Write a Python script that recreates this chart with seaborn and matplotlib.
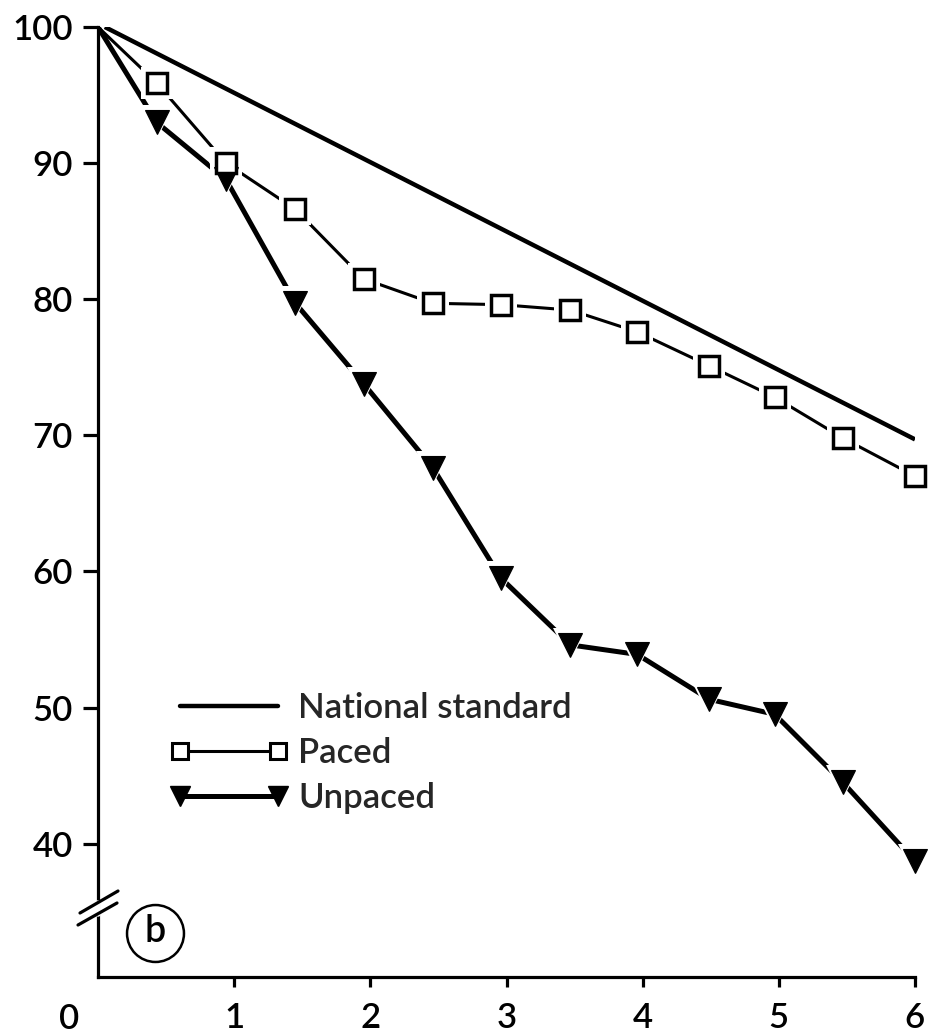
import matplotlib
matplotlib.use("Agg")
import matplotlib.pyplot as plt
from matplotlib.lines import Line2D
import seaborn as sns

# Months since start and percentage retained
months = [0.0, 0.43, 0.94, 1.45, 1.95, 2.46, 2.96, 3.47, 3.96, 4.49, 4.97, 5.47, 6.0]
paced = [100.0, 95.9, 90.0, 86.6, 81.5, 79.7, 79.6, 79.2, 77.6, 75.1, 72.8, 69.8, 67.0]
unpaced = [100.0, 93.0, 88.8, 79.7, 73.8, 67.6, 59.5, 54.6, 53.9, 50.6, 49.5, 44.5, 38.7]
standard_months = [0.05, 6.0]
standard = [100.0, 69.7]

y_ticks = [40, 50, 60, 70, 80, 90, 100]
x_ticks = [1, 2, 3, 4, 5, 6]
labels = ["National standard", "Paced", "Unpaced"]
panel = "b"

sns.set_theme(style="ticks")
plt.rcParams["font.family"] = ["Lato", "DejaVu Sans"]
plt.rcParams["font.weight"] = "semibold"

W, H = 941, 1036
fig = plt.figure(figsize=(W / 100, H / 100), dpi=100)
ax = fig.add_axes([98 / W, 1 - 977 / H, (915 - 98) / W, (977 - 27) / H])

ink = "black"

# National standard line
sns.lineplot(x=standard_months, y=standard, ax=ax, color=ink, lw=3.2,
             solid_capstyle="butt", zorder=3)

# Series lines
sns.lineplot(x=months, y=paced, ax=ax, color=ink, lw=2.2, zorder=3)
sns.lineplot(x=months, y=unpaced, ax=ax, color=ink, lw=3.6, zorder=3)

# White halos open a small gap between each line and its markers
ax.plot(months[1:], paced[1:], linestyle="none", marker="s", ms=23,
        mfc="white", mec="white", mew=0, zorder=4, clip_on=False)
ax.plot(months[1:], unpaced[1:], linestyle="none", marker="v", ms=25,
        mfc="white", mec="white", mew=0, zorder=4, clip_on=False)

# Markers
sns.lineplot(x=months[1:], y=unpaced[1:], ax=ax, color=ink, linestyle="none",
             marker="v", ms=17, markeredgecolor=ink, markerfacecolor=ink,
             markeredgewidth=0.8, zorder=6, clip_on=False)
sns.lineplot(x=months[1:], y=paced[1:], ax=ax, color=ink, linestyle="none",
             marker="s", ms=14, markeredgecolor=ink, markerfacecolor="white",
             markeredgewidth=2.5, zorder=7, clip_on=False)

ax.set_xlim(0, 6)
ax.set_ylim(30.2, 100)
ax.set_xticks(x_ticks)
ax.set_yticks(y_ticks)
ax.set_xticklabels([str(t) for t in x_ticks])
ax.set_yticklabels([str(t) for t in y_ticks])
ax.set_xlabel("")
ax.set_ylabel("")

for side in ("top", "right"):
    ax.spines[side].set_visible(False)
for side in ("left", "bottom"):
    ax.spines[side].set_linewidth(2.3)
    ax.spines[side].set_color(ink)

ax.tick_params(axis="y", direction="out", length=11, width=2.3,
               pad=7, labelsize=25, colors=ink)
ax.tick_params(axis="x", direction="out", length=7, width=2.3,
               pad=11, labelsize=25, colors=ink)

# Origin label
fig.text(69 / W, 1 - 1019 / H, "0", fontsize=25, ha="center", va="center",
         color=ink)

# Axis break marks on the y axis
to_fig = lambda px, py: (px / W, 1 - py / H)
gap = [to_fig(98, 903), to_fig(98, 914)]
fig.add_artist(Line2D([gap[0][0], gap[1][0]], [gap[0][1], gap[1][1]],
                      color="white", lw=4, zorder=10))
for (x0, y0), (x1, y1) in [((80, 913), (118, 891)), ((78, 925), (117, 903))]:
    a, b = to_fig(x0, y0), to_fig(x1, y1)
    fig.add_artist(Line2D([a[0], b[0]], [a[1], b[1]], color=ink, lw=2.3,
                          zorder=11))

# Panel letter in a circle
cx, cy = to_fig(155, 933)
fig.add_artist(Line2D([cx], [cy], marker="o", ms=41, mfc="none", mec=ink,
                      mew=1.8, lw=0))
fig.text(cx, cy + 0.001, panel, fontsize=27, ha="center", va="center",
         color=ink)

# Legend
handles = [
    Line2D([], [], color=ink, lw=3.2),
    Line2D([], [], color=ink, lw=2.2, marker="s", ms=11, mfc="white",
           mec=ink, mew=2.2),
    Line2D([], [], color=ink, lw=3.6, marker="v", ms=15, mfc=ink, mec=ink),
]
ax.legend(handles, labels, loc="upper left",
          bbox_to_anchor=to_fig(170, 692), bbox_transform=fig.transFigure,
          frameon=False, numpoints=2, fontsize=25, handlelength=3.4,
          handletextpad=0.3, labelspacing=0.38, borderpad=0, borderaxespad=0)

fig.savefig("out.png", dpi=100, facecolor="white")
